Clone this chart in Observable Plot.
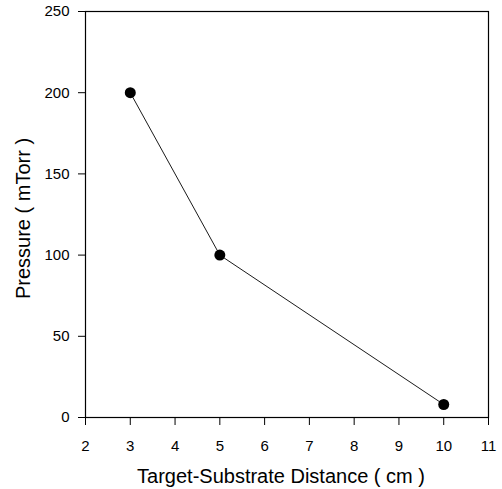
<!DOCTYPE html>
<html><head><meta charset="utf-8">
<script src="https://cdn.jsdelivr.net/npm/d3@7"></script>
<script src="https://cdn.jsdelivr.net/npm/@observablehq/plot@0.6"></script>
<style>body{margin:0;background:#fff;} svg{font-family:"Liberation Sans",Arial,sans-serif;}</style>
</head><body><div id="chart"></div>
<script>
const distance = [3, 5, 10];
const pressure = [200, 100, 8];
const xTicks = [2,3,4,5,6,7,8,9,10,11];
const yTicks = [0,50,100,150,200,250];
const data = distance.map((d,i)=>({x:d,y:pressure[i]}));
const chart = Plot.plot({
  width: 502, height: 489,
  marginLeft: 85, marginRight: 14, marginTop: 11, marginBottom: 72,
  style: {fontSize: "15px", fontFamily: '"Liberation Sans",Arial,sans-serif', color: "#000", background: "#fff"},
  x: {domain: [2, 11], ticks: xTicks, label: null},
  y: {domain: [0, 250], ticks: yTicks, label: null},
  marks: [
    Plot.frame({stroke: "#000", strokeWidth: 1.2}),
    Plot.axisX({ticks: xTicks, tickSize: 8, tickPadding: 15, fontSize: 15, label: null}),
    Plot.axisY({ticks: yTicks, tickSize: 7, tickPadding: 9, fontSize: 15, label: null}),
    Plot.line(data, {x: "x", y: "y", stroke: "#000", strokeWidth: 0.9}),
    Plot.dot(data, {x: "x", y: "y", r: 5.5, fill: "#000", stroke: "none"}),
    Plot.text(["Target-Substrate Distance ( cm )"], {frameAnchor: "bottom", textAnchor: "middle", lineAnchor: "middle", dx: -6, dy: 59, fontSize: 20, text: d => d}),
    Plot.text(["Pressure ( mTorr )"], {frameAnchor: "left", textAnchor: "middle", lineAnchor: "middle", dx: -62, dy: 4, rotate: -90, fontSize: 20, text: d => d})
  ]
});
document.getElementById("chart").appendChild(chart);
</script></body></html>
